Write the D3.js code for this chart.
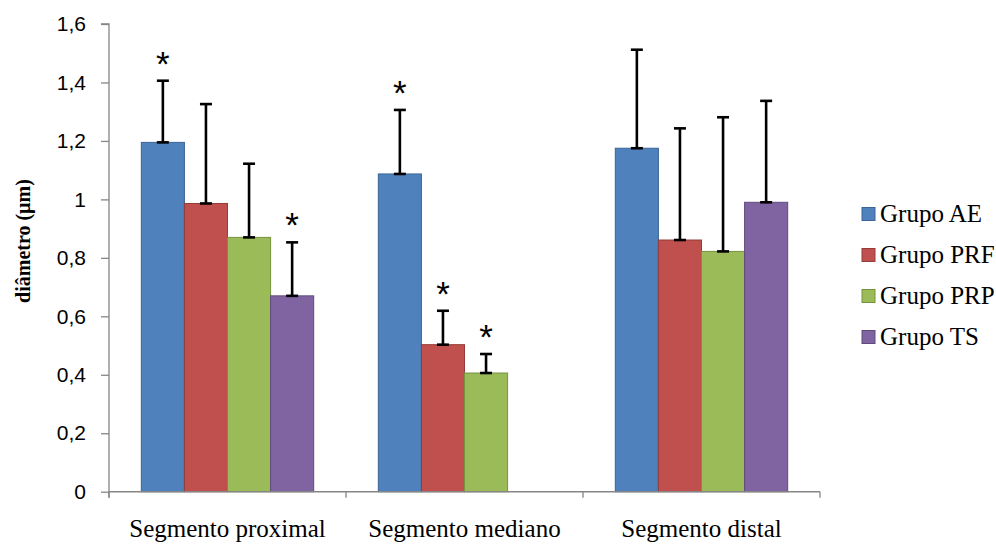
<!DOCTYPE html>
<html>
<head>
<meta charset="utf-8">
<script src="https://cdn.jsdelivr.net/npm/d3@7"></script>
<style>
  html, body { margin: 0; padding: 0; background: #fff; }
  svg { display: block; }
</style>
</head>
<body>
<svg id="chart" width="996" height="546"></svg>
<script>
// ---- data ----
const categories = ["Segmento proximal", "Segmento mediano", "Segmento distal"];
const series = ["Grupo AE", "Grupo PRF", "Grupo PRP", "Grupo TS"];
const valuesAE  = [1.195, 1.087, 1.175];
const valuesPRF = [0.986, 0.503, 0.861];
const valuesPRP = [0.870, 0.406, 0.822];
const valuesTS  = [0.670, null, 0.990];
const errAE  = [0.211, 0.219, 0.337];
const errPRF = [0.340, 0.116, 0.382];
const errPRP = [0.252, 0.065, 0.459];
const errTS  = [0.183, null, 0.347];
const signifAE  = [true, true, false];
const signifPRF = [false, true, false];
const signifPRP = [false, true, false];
const signifTS  = [true, false, false];
const yTicks = [0, 0.2, 0.4, 0.6, 0.8, 1, 1.2, 1.4, 1.6];
const colors  = ["#4F81BD", "#C0504D", "#9BBB59", "#8064A2"];
const borders = ["#3A6496", "#943C3A", "#76923F", "#5F4A7C"];

const vals = [valuesAE, valuesPRF, valuesPRP, valuesTS];
const errs = [errAE, errPRF, errPRP, errTS];
const sigs = [signifAE, signifPRF, signifPRP, signifTS];

const records = [];
categories.forEach((c, ci) => {
  series.forEach((s, si) => {
    if (vals[si][ci] != null) {
      records.push({cat: c, ser: s, si, v: vals[si][ci], e: errs[si][ci], sig: sigs[si][ci]});
    }
  });
});

// ---- layout ----
const svg = d3.select("#chart");
const mLeft = 109, mRight = 820, mTop = 24, mBottom = 491.7;

const x0 = d3.scaleBand().domain(categories).range([mLeft, mRight]).paddingInner(0).paddingOuter(0);
const x1 = d3.scaleBand().domain(series).range([0, x0.bandwidth()]).paddingInner(0).paddingOuter(0.75);
const y = d3.scaleLinear().domain([0, 1.6]).range([mBottom, mTop]);

const fmt = d => d3.format("")(d).replace(".", ",");

// bars
svg.append("g").selectAll("rect").data(records).join("rect")
  .attr("x", d => x0(d.cat) + x1(d.ser))
  .attr("y", d => y(d.v))
  .attr("width", x1.bandwidth())
  .attr("height", d => y(0) - y(d.v))
  .attr("fill", d => colors[d.si])
  .attr("stroke", d => borders[d.si])
  .attr("stroke-width", 1);

// error bars
const eb = svg.append("g").attr("stroke", "#000").attr("stroke-width", 2.6);
records.forEach(d => {
  const cx = x0(d.cat) + x1(d.ser) + x1.bandwidth() / 2;
  eb.append("line").attr("x1", cx).attr("x2", cx).attr("y1", y(d.v)).attr("y2", y(d.v + d.e));
  eb.append("line").attr("x1", cx - 6).attr("x2", cx + 6).attr("y1", y(d.v + d.e)).attr("y2", y(d.v + d.e));
  eb.append("line").attr("x1", cx - 6).attr("x2", cx + 6).attr("y1", y(d.v)).attr("y2", y(d.v));
});

// asterisks
svg.append("g").selectAll("text").data(records.filter(d => d.sig)).join("text")
  .attr("x", d => x0(d.cat) + x1(d.ser) + x1.bandwidth() / 2)
  .attr("y", d => y(d.v + d.e) - 5)
  .attr("text-anchor", "middle")
  .attr("font-family", "Liberation Sans, Arial, sans-serif")
  .attr("font-size", 35)
  .attr("fill", "#000")
  .text("*");

// axes
const axisColor = "#868686";
const gy = svg.append("g").attr("transform", `translate(${mLeft},0)`)
  .call(d3.axisLeft(y).tickValues(yTicks).tickSize(8).tickPadding(15).tickFormat(fmt));
gy.select(".domain").attr("stroke", axisColor).attr("stroke-width", 1.3).attr("d", `M-8,${mTop}H0V${mBottom + 6}`);
gy.selectAll(".tick line").attr("stroke", axisColor).attr("stroke-width", 1.3);
gy.selectAll(".tick text").attr("font-family", "Liberation Sans, Arial, sans-serif").attr("font-size", 21).attr("fill", "#000");

const gx = svg.append("g").attr("transform", `translate(0,${mBottom})`);
gx.append("line").attr("x1", mLeft).attr("x2", mRight).attr("y1", 0).attr("y2", 0)
  .attr("stroke", axisColor).attr("stroke-width", 1.6);
const bounds = categories.map(c => x0(c)).concat([mRight]);
gx.selectAll("line.tk").data(bounds).join("line").attr("class", "tk")
  .attr("x1", d => d).attr("x2", d => d).attr("y1", 0).attr("y2", 6)
  .attr("stroke", axisColor).attr("stroke-width", 1.3);
gx.selectAll("text").data(categories).join("text")
  .attr("x", d => x0(d) + x0.bandwidth() / 2)
  .attr("y", 45)
  .attr("text-anchor", "middle")
  .attr("font-family", "Liberation Serif, Times New Roman, serif")
  .attr("font-size", 25)
  .attr("fill", "#000")
  .text(d => d);

// y axis title
svg.append("text")
  .attr("transform", `translate(30,241) rotate(-90)`)
  .attr("text-anchor", "middle")
  .attr("font-family", "Liberation Serif, Times New Roman, serif")
  .attr("font-weight", "bold")
  .attr("font-size", 20)
  .attr("fill", "#000")
  .text("diâmetro (µm)");

// legend
const lg = svg.append("g").attr("transform", "translate(862,214)");
const li = lg.selectAll("g").data(series).join("g").attr("transform", (d, i) => `translate(0,${i * 41})`);
li.append("rect").attr("x", 0).attr("y", -6.5).attr("width", 13).attr("height", 13)
  .attr("fill", (d, i) => colors[i]).attr("stroke", (d, i) => borders[i]).attr("stroke-width", 1);
li.append("text").attr("x", 18).attr("y", 8)
  .attr("font-family", "Liberation Serif, Times New Roman, serif")
  .attr("font-size", 25).attr("fill", "#000").text(d => d);
</script>
</body>
</html>
